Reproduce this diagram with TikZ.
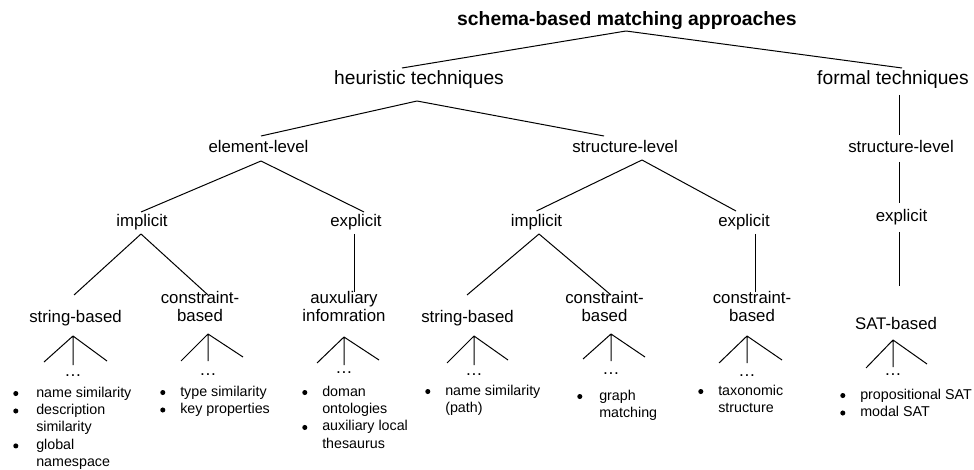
\documentclass[tikz,border=0pt]{standalone}
\usepackage{fontspec}
\setmainfont{Liberation Sans}
\usetikzlibrary{calc}
% bullet mark used in the leaf lists: a small filled disc
\newcommand\itm{\tikz[baseline={(0pt,-2.6pt)}]\fill (0pt,0pt) circle (1.9pt);}
% a fan of three short strokes from a label down to its "..." node
% #1 parent node, #2 apex offset, #3 dots node, #4/#5/#6 left/middle/right ends
\newcommand\fan[6]{%
  \draw[conn] ($(#1)+(#2)$) -- ($(#3.base)+(#4)$)
              ($(#1)+(#2)$) -- ($(#3.base)+(#5)$)
              ($(#1)+(#2)$) -- ($(#3.base)+(#6)$);}
\begin{document}
\begin{tikzpicture}[x=0.75pt,y=-0.75pt,
  conn/.style={line width=0.75pt,black},
  ttl/.style={inner sep=0pt,anchor=base,font=\fontsize{14.5}{17}\selectfont\bfseries},
  big/.style={inner sep=0pt,text height=0.75em,text depth=0.21em,font=\fontsize{14.4}{17}\selectfont},
  lbl/.style={inner sep=0pt,align=center,text height=0.75em,text depth=0.21em,font=\fontsize{12.6}{13.5}\selectfont},
  dots/.style={inner sep=0pt,anchor=base,font=\fontsize{13}{15}\selectfont},
  items/.style={inner sep=0pt,anchor=base west,font=\fontsize{10.7}{13.1}\selectfont}]
\useasboundingbox (0,0) rectangle (974,470);

% ---- labels ----
\node[ttl] (title) at (627,26) {schema-based matching approaches};
\node[big] (heur)   at (419,81) {heuristic techniques};
\node[big] (formal) at (893,81) {formal techniques};

\node[lbl] (elem)    at (258.5,149) {element-level};
\node[lbl] (struct)  at (625,149)   {structure-level};
\node[lbl] (fstruct) at (901,149)   {structure-level};

\node[lbl] (impl1) at (142,223)   {implicit};
\node[lbl] (expl1) at (356,223)   {explicit};
\node[lbl] (impl2) at (536.5,223) {implicit};
\node[lbl] (expl2) at (744,223)   {explicit};
\node[lbl] (fexpl) at (901.5,218) {explicit};

\node[lbl] (sb1) at (75.5,319)  {string-based};
\node[lbl] (cb1) at (200,318)   {constraint-\\based};
\node[lbl] (aux) at (344,318)   {auxuliary\\infomration};
\node[lbl] (sb2) at (467.5,319) {string-based};
\node[lbl] (cb2) at (604.5,318) {constraint-\\based};
\node[lbl] (cb3) at (752,318)   {constraint-\\based};
\node[lbl] (sat) at (896,326)   {SAT-based};

% ---- ellipses under the leaves ----
\node[dots] (d1) at (73,376)  {…};
\node[dots] (d2) at (208,375) {…};
\node[dots] (d3) at (344,373.5) {…};
\node[dots] (d4) at (474,375) {…};
\node[dots] (d5) at (611,374) {…};
\node[dots] (d6) at (747,376) {…};
\node[dots] (d7) at (893,375) {…};

% ---- tree edges ----
\draw[conn] ($(title.base)+(-1,5)$) -- ($(heur)+(-17,-13)$);
\draw[conn] ($(title.base)+(-1,5)$) -- ($(formal)+(9,-13)$);

\draw[conn] ($(heur)+(-2,20)$) -- ($(elem)+(2.5,-13)$);
\draw[conn] ($(heur)+(-2,20)$) -- ($(struct)+(-21,-13)$);
\draw[conn] ($(formal)+(6,14)$) -- ($(fstruct)+(-2,-14)$);

\draw[conn] ($(elem)+(2.5,12)$) -- ($(impl1)+(-1,-11)$);
\draw[conn] ($(elem)+(2.5,12)$) -- ($(expl1)+(8,-11)$);
\draw[conn] ($(struct)+(17,11)$) -- ($(impl2)+(0,-12)$);
\draw[conn] ($(struct)+(17,11)$) -- ($(expl2)+(-8,-12)$);
\draw[conn] ($(fstruct)+(-2,13)$) -- ($(fexpl)+(-2.5,-15)$);

\draw[conn] ($(impl1)+(-1,11)$) -- ($(sb1)+(-1.5,-24)$);
\draw[conn] ($(impl1)+(-1,11)$) -- ($(cb1)+(8,-23)$);
\draw[conn] ($(expl1)+(-2,11)$) -- ($(aux)+(10,-26)$);
\draw[conn] ($(impl2)+(2.5,11)$) -- ($(sb2)+(-0.5,-24)$);
\draw[conn] ($(impl2)+(2.5,11)$) -- ($(cb2)+(6.5,-23)$);
\draw[conn] ($(expl2)+(11,11)$) -- ($(cb3)+(3,-26)$);
\draw[conn] ($(fexpl)+(-2.5,14)$) -- ($(sat)+(3,-40)$);

% ---- fans ----
\fan{sb1}{-2.5,17}{d1}{-29,-14}{0,-11}{34,-15}
\fan{cb1}{8,16}{d2}{-27,-14}{0,-14}{35,-18}
\fan{aux}{0,19}{d3}{-27,-10.5}{0,-8.5}{35,-13.5}
\fan{sb2}{6.5,17}{d4}{-27,-12}{0,-10}{34,-15}
\fan{cb2}{6.5,16}{d5}{-28,-15}{0,-13}{34,-17}
\fan{cb3}{-5,18}{d6}{-28,-13}{0,-13}{35,-16}
\fan{sat}{-3,14}{d7}{-27,-7}{0,-8}{34,-11}

% ---- leaf lists ----
\node[items] (l1) at (13,397) {\begin{tabular}[t]{@{}p{17.25pt}@{}l@{}}
  \itm & name similarity\\ \itm & description\\ & similarity\\ \itm & global\\ & namespace\end{tabular}};
\node[items] (l2) at (160,396) {\begin{tabular}[t]{@{}p{15pt}@{}l@{}}
  \itm & type similarity\\ \itm & key properties\end{tabular}};
\node[items] (l3) at (302,396) {\begin{tabular}[t]{@{}p{15pt}@{}l@{}}
  \itm & doman\\ & ontologies\\ \itm & auxiliary local\\ & thesaurus\end{tabular}};
\node[items] (l4) at (425,395) {\begin{tabular}[t]{@{}p{15pt}@{}l@{}}
  \itm & name similarity\\ & (path)\end{tabular}};
\node[items] (l5) at (577,400) {\begin{tabular}[t]{@{}p{16.5pt}@{}l@{}}
  \itm & graph\\ & matching\end{tabular}};
\node[items] (l6) at (698,395) {\begin{tabular}[t]{@{}p{15pt}@{}l@{}}
  \itm & taxonomic\\ & structure\end{tabular}};
\node[items] (l7) at (840,399) {\begin{tabular}[t]{@{}p{15pt}@{}l@{}}
  \itm & propositional SAT\\ \itm & modal SAT\end{tabular}};
\end{tikzpicture}
\end{document}
